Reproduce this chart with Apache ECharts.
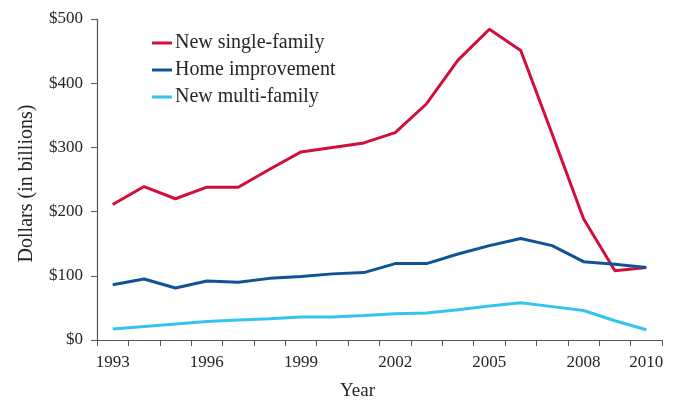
<!DOCTYPE html>
<html>
<head>
<meta charset="utf-8">
<script src="https://cdn.jsdelivr.net/npm/echarts@6/dist/echarts.min.js"></script>
<style>html,body{margin:0;padding:0;background:#fff}#c{width:675px;height:406px}</style>
</head>
<body>
<div id="c"></div>
<script>
var years = ['1993','1994','1995','1996','1997','1998','1999','2000','2001','2002','2003','2004','2005','2006','2007','2008','2009','2010'];
var singleFamily = [211, 239, 220, 238, 238, 266, 293, 300, 307, 323, 368, 436, 484, 451, 321, 189, 108, 113];
var homeImprovement = [86, 95, 81, 92, 90, 96, 99, 103, 105, 119, 119, 134, 147, 158, 147, 122, 118, 113];
var multiFamily = [17, 21, 25, 29, 31, 33, 36, 36, 38, 41, 42, 47, 53, 58, 52, 46, 30, 16];
var seriesNames = ['New single-family', 'Home improvement', 'New multi-family'];
var colors = ['#d0103a', '#0f5296', '#35c3f0'];

var font = 'Liberation Serif, Times New Roman, serif';
var txt = '#262626';
var chart = echarts.init(document.getElementById('c'));
chart.setOption({
  animation: false,
  textStyle: { fontFamily: font, color: txt },
  grid: { left: 97, right: 13, top: 19, bottom: 58, containLabel: false },
  legend: {
    orient: 'vertical', left: 147, top: 28, itemWidth: 20, itemHeight: 3, itemGap: 7,
    icon: 'rect',
    textStyle: { fontFamily: font, fontSize: 20, lineHeight: 20, color: txt, padding: [0,0,0,-2] },
    data: seriesNames
  },
  xAxis: {
    type: 'category', data: years, boundaryGap: true,
    name: 'Year', nameLocation: 'middle', nameGap: 42,
    nameTextStyle: { fontFamily: font, fontSize: 19, color: txt, padding: [0, 44, 0, 0] },
    axisLine: { lineStyle: { color: '#555', width: 1.2 } },
    axisTick: { show: true, interval: 0, length: 6, lineStyle: { color: '#555' } },
    axisLabel: {
      fontFamily: font, fontSize: 17, color: txt, margin: 14,
      interval: function (i) { return i % 3 === 0 || i === years.length - 1; }
    }
  },
  yAxis: {
    type: 'value', min: 0, max: 500, interval: 100,
    name: 'Dollars (in billions)', nameLocation: 'middle', nameGap: 60,
    nameTextStyle: { fontFamily: font, fontSize: 20, color: txt, padding: [0, 8, 0, 0] },
    axisLine: { show: true, lineStyle: { color: '#555', width: 1.2 } },
    axisTick: { show: true, length: 6, lineStyle: { color: '#555' } },
    splitLine: { show: false },
    axisLabel: { fontFamily: font, fontSize: 17, color: txt, margin: 14, formatter: function (v) { return '$' + v; } }
  },
  series: [
    { name: seriesNames[0], type: 'line', data: singleFamily, symbol: 'none', lineStyle: { width: 3, color: colors[0] }, itemStyle: { color: colors[0] }, z: 3 },
    { name: seriesNames[1], type: 'line', data: homeImprovement, symbol: 'none', lineStyle: { width: 3, color: colors[1] }, itemStyle: { color: colors[1] }, z: 4 },
    { name: seriesNames[2], type: 'line', data: multiFamily, symbol: 'none', lineStyle: { width: 3, color: colors[2] }, itemStyle: { color: colors[2] }, z: 2 }
  ]
});
</script>
</body>
</html>
